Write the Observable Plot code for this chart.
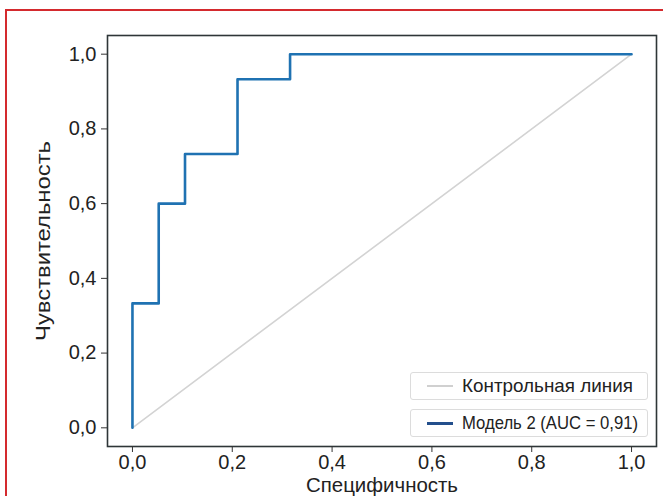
<!DOCTYPE html>
<html><head><meta charset="utf-8">
<script src="https://cdn.jsdelivr.net/npm/d3@7"></script>
<script src="https://cdn.jsdelivr.net/npm/@observablehq/plot@0.6"></script>
<style>
html,body{margin:0;padding:0;background:#fff;overflow:hidden;}
#wrap{position:relative;width:663px;height:496px;overflow:hidden;}
#border{position:absolute;left:5px;top:9px;width:720px;height:620px;border:2px solid #d42a2e;box-sizing:border-box;pointer-events:none;}
#chart{position:absolute;left:0;top:0;}
.leg{position:absolute;left:410px;width:238px;height:28px;border:1px solid #dcdcdc;border-radius:3px;background:#fff;box-sizing:border-box;display:flex;align-items:center;font-family:"Liberation Sans",Arial,sans-serif;font-size:19px;color:#222;white-space:nowrap;overflow:visible;}
.leg .sw{display:inline-block;width:26px;height:0;margin-left:16px;margin-right:9px;flex:none;}
.leg .tx{display:inline-block;transform-origin:left center;flex:none;}
</style>
</head><body>
<div id="wrap"><div id="chart"></div><div id="legend"></div><div id="border"></div></div>
<script>
// data
const rocX = [0, 0, 0.0526, 0.0526, 0.1053, 0.1053, 0.2105, 0.2105, 0.3158, 0.3158, 1];
const rocY = [0, 0.333, 0.333, 0.6, 0.6, 0.733, 0.733, 0.933, 0.933, 1, 1];
const refX = [0, 1];
const refY = [0, 1];
const ticks = [0, 0.2, 0.4, 0.6, 0.8, 1.0];
const seriesNames = ["Контрольная линия", "Модель 2 (AUC = 0,91)"];
const seriesColors = ["#d3d3d3", "#1f72b2"];
const legendColors = ["#d0d0d0", "#234f8c"];
const xLabel = "Специфичность";
const yLabel = "Чувствительность";

const roc = rocX.map((x, i) => ({x, y: rocY[i]}));
const ref = refX.map((x, i) => ({x, y: refY[i]}));
const fmt = d => d.toFixed(1).replace(".", ",");

const chart = Plot.plot({
  width: 663, height: 496,
  marginLeft: 107, marginRight: 7, marginTop: 35, marginBottom: 50,
  style: {fontFamily: '"Liberation Sans", Arial, sans-serif', color: "#222", background: "transparent"},
  x: {domain: [-0.05, 1.05]},
  y: {domain: [-0.05, 1.05]},
  marks: [
    Plot.line(ref, {x: "x", y: "y", stroke: seriesColors[0], strokeWidth: 1.6}),
    Plot.line(roc, {x: "x", y: "y", stroke: seriesColors[1], strokeWidth: 2.6}),
    Plot.frame({stroke: "#2e3638", strokeWidth: 1.6}),
    Plot.axisX({ticks, tickFormat: fmt, tickSize: 6, tickPadding: 2, fontSize: 20, stroke: "#333",
      label: xLabel, labelAnchor: "center", labelArrow: "none", labelOffset: 45}),
    Plot.axisY({ticks, tickFormat: fmt, tickSize: 6, tickPadding: 5, fontSize: 20, stroke: "#333",
      label: yLabel, labelAnchor: "center", labelArrow: "none", labelOffset: 72})
  ]
});
document.getElementById("chart").appendChild(chart);
const fitText = (sel, len, size) => {
  const t = chart.querySelector(sel);
  if (t) { t.setAttribute("textLength", len); t.setAttribute("lengthAdjust", "spacingAndGlyphs"); t.setAttribute("font-size", size); }
};
fitText('g[aria-label="x-axis label"] text', 152, 20);
fitText('g[aria-label="y-axis label"] text', 200, 21);

const legend = document.getElementById("legend");
const tops = [372, 409];
const targetW = [171, 176];
seriesNames.forEach((name, i) => {
  const d = document.createElement("div");
  d.className = "leg";
  d.style.top = tops[i] + "px";
  const sw = document.createElement("span");
  sw.className = "sw";
  sw.style.borderTop = (i === 0 ? 2 : 3) + "px solid " + legendColors[i];
  const t = document.createElement("span");
  t.className = "tx";
  t.textContent = name;
  d.appendChild(sw); d.appendChild(t);
  legend.appendChild(d);
  const w = t.getBoundingClientRect().width;
  t.style.transform = `scaleX(${targetW[i] / w})`;
});
</script>
</body></html>
